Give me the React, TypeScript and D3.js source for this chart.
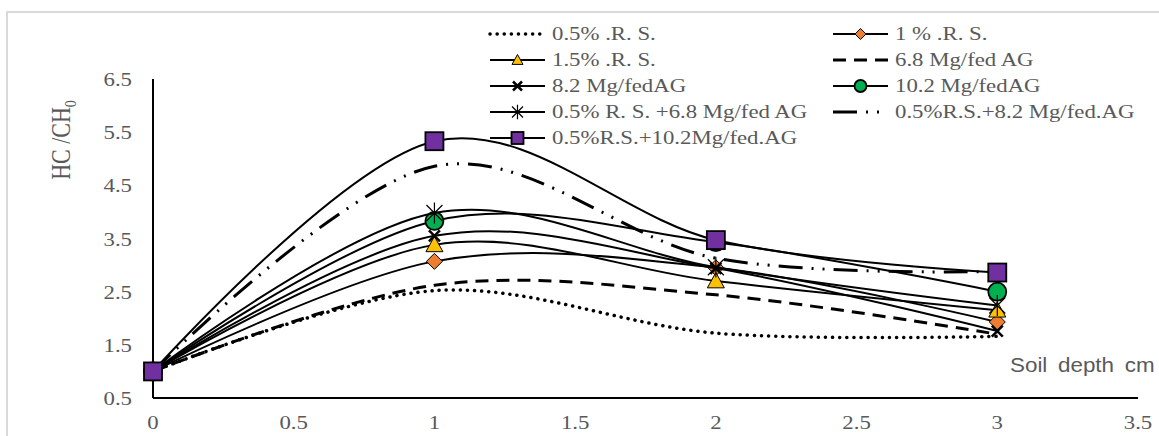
import React from 'react';
import * as d3 from 'd3';

// ---- data ----
const depth = [0, 1, 2, 3];
const rs05 = [1, 2.52, 1.72, 1.66];
const rs1 = [1, 3.07, 2.95, 1.93];
const rs15 = [1, 3.38, 2.7, 2.15];
const ag68 = [1, 2.62, 2.44, 1.7];
const ag82 = [1, 3.55, 2.94, 1.76];
const ag102 = [1, 3.83, 3.43, 2.5];
const rs05ag68 = [1, 3.98, 2.96, 2.24];
const rs05ag82 = [1, 4.86, 3.13, 2.88];
const rs05ag102 = [1, 5.33, 3.47, 2.86];

const seriesLabels = [
  '0.5% .R. S.',
  '1 % .R. S.',
  '1.5% .R. S.',
  '6.8 Mg/fed AG',
  '8.2 Mg/fedAG',
  '10.2 Mg/fedAG',
  '0.5% R. S. +6.8 Mg/fed AG',
  '0.5%R.S.+8.2 Mg/fed.AG',
  '0.5%R.S.+10.2Mg/fed.AG',
];
const seriesValues = [rs05, rs1, rs15, ag68, ag82, ag102, rs05ag68, rs05ag82, rs05ag102];

const xTicks = [0, 0.5, 1, 1.5, 2, 2.5, 3, 3.5];
const yTicks = [0.5, 1.5, 2.5, 3.5, 4.5, 5.5, 6.5];

type Style = { dash: string | null; width: number; cap: string; marker: string | null; fill?: string };
const styles: Style[] = [
  { dash: '0.1 7', width: 3.5, cap: 'round', marker: null },
  { dash: null, width: 2, cap: 'butt', marker: 'diamond', fill: '#ed7d31' },
  { dash: null, width: 2, cap: 'butt', marker: 'triangle', fill: '#ffc000' },
  { dash: '13 8', width: 3, cap: 'butt', marker: null },
  { dash: null, width: 2, cap: 'butt', marker: 'x' },
  { dash: null, width: 2, cap: 'butt', marker: 'circle', fill: '#00b050' },
  { dash: null, width: 2, cap: 'butt', marker: 'star' },
  { dash: '24 9 2 9 2 9', width: 3, cap: 'butt', marker: null },
  { dash: null, width: 2, cap: 'butt', marker: 'square', fill: '#7030a0' },
];

const TXT = '#595959';
const SERIF = "'Liberation Serif', 'Times New Roman', serif";

function Marker({ type, cx, cy, s, fill }: { type: string; cx: number; cy: number; s: number; fill?: string }) {
  const h = s / 2;
  switch (type) {
    case 'square':
      return <rect x={cx - h} y={cy - h} width={s} height={s} fill={fill} stroke="#000" strokeWidth={1.8} />;
    case 'circle':
      return <circle cx={cx} cy={cy} r={h} fill={fill} stroke="#000" strokeWidth={1.8} />;
    case 'diamond':
      return (
        <path d={`M${cx},${cy - h}L${cx + h},${cy}L${cx},${cy + h}L${cx - h},${cy}Z`} fill={fill} stroke="#000" strokeWidth={1} />
      );
    case 'triangle':
      return (
        <path d={`M${cx},${cy - h}L${cx + h},${cy + h * 0.8}L${cx - h},${cy + h * 0.8}Z`} fill={fill} stroke="#000" strokeWidth={1} />
      );
    case 'x':
      return (
        <path d={`M${cx - h},${cy - h}L${cx + h},${cy + h}M${cx + h},${cy - h}L${cx - h},${cy + h}`} stroke="#000" strokeWidth={2.5} />
      );
    case 'star':
      return (
        <path
          d={`M${cx - h},${cy - h}L${cx + h},${cy + h}M${cx + h},${cy - h}L${cx - h},${cy + h}M${cx},${cy - h * 1.3}L${cx},${cy + h * 1.3}`}
          stroke="#000"
          strokeWidth={1.2}
        />
      );
  }
  return null;
}

function SText(props: { x: number; y: number; anchor?: string; size?: number; family?: string; children: React.ReactNode }) {
  const { x, y, anchor = 'start', size = 19, family = SERIF, children } = props;
  return (
    <text
      transform={`translate(${x},${y}) scale(1.2,1)`}
      textAnchor={anchor}
      fontFamily={family}
      fontSize={size}
      fill={TXT}
    >
      {children}
    </text>
  );
}

export default function App() {
  const x = d3.scaleLinear().domain([0, 3.5]).range([153, 1138]);
  const y = d3.scaleLinear().domain([0.5, 6.5]).range([398, 79]);
  const line = d3
    .line<number>()
    .x((_, i) => x(depth[i]))
    .y((d) => y(d))
    .curve(d3.curveCardinal.tension(0));

  const markerSize = (t: string | null) =>
    t === 'square' ? 18 : t === 'circle' ? 18 : t === 'triangle' ? 17 : t === 'diamond' ? 16 : t === 'star' ? 16 : 11;
  const legendSize = (t: string | null) =>
    t === 'square' ? 12 : t === 'circle' ? 12 : t === 'triangle' ? 11 : t === 'diamond' ? 11 : t === 'star' ? 11 : 9;

  const legCols = [
    { x0: 490, x1: 545, tx: 552 },
    { x0: 833, x1: 888, tx: 895 },
  ];
  const legRow0 = 34;
  const legStep = 26;

  return (
    <svg
      width={1159}
      height={436}
      style={{ position: 'absolute', left: 0, top: 0, background: '#fff' }}
    >
      <rect x={7} y={12} width={1200} height={500} fill="none" stroke="#d9d9d9" strokeWidth={2} />

      {/* axes */}
      <line x1={x(0)} x2={x(0)} y1={y(6.5)} y2={y(0.5)} stroke="#000" strokeWidth={2} />
      <line x1={x(0)} x2={x(3.5)} y1={y(0.5)} y2={y(0.5)} stroke="#000" strokeWidth={2} />

      {yTicks.map((t) => (
        <SText key={'y' + t} x={132} y={y(t) + 7} anchor="end">
          {String(t)}
        </SText>
      ))}
      {xTicks.map((t) => (
        <SText key={'x' + t} x={x(t)} y={429} anchor="middle">
          {String(t)}
        </SText>
      ))}

      <text transform="translate(70,140) scale(1.2,1) rotate(-90)" textAnchor="middle" fontFamily={SERIF} fontSize={22} fill={TXT}>
        HC /CH<tspan fontSize={14} dy={5}>0</tspan>
      </text>
      <text
        transform="translate(1010,372) scale(1.12,1)"
        fontFamily="'Liberation Sans', Arial, sans-serif"
        fontSize={20}
        fill={TXT}
        style={{ wordSpacing: '4px' }}
      >
        Soil depth cm
      </text>

      {/* series */}
      {seriesValues.map((vals, i) => {
        const st = styles[i];
        return (
          <g key={'s' + i}>
            <path
              d={line(vals) || ''}
              fill="none"
              stroke="#000"
              strokeWidth={st.width}
              strokeDasharray={st.dash || undefined}
              strokeLinecap={st.cap as any}
            />
            {st.marker &&
              vals.map((v, j) => (
                <Marker key={j} type={st.marker as string} cx={x(depth[j])} cy={y(v)} s={markerSize(st.marker)} fill={st.fill} />
              ))}
          </g>
        );
      })}

      {/* legend */}
      {seriesLabels.map((lab, i) => {
        const st = styles[i];
        const c = legCols[i % 2];
        const cy = legRow0 + Math.floor(i / 2) * legStep;
        return (
          <g key={'l' + i}>
            <line
              x1={c.x0}
              x2={c.x1}
              y1={cy}
              y2={cy}
              stroke="#000"
              strokeWidth={st.width}
              strokeDasharray={st.dash || undefined}
              strokeLinecap={st.cap as any}
            />
            {st.marker && (
              <Marker type={st.marker} cx={(c.x0 + c.x1) / 2} cy={cy} s={legendSize(st.marker)} fill={st.fill} />
            )}
            <SText x={c.tx} y={cy + 6}>
              {lab}
            </SText>
          </g>
        );
      })}
    </svg>
  );
}
